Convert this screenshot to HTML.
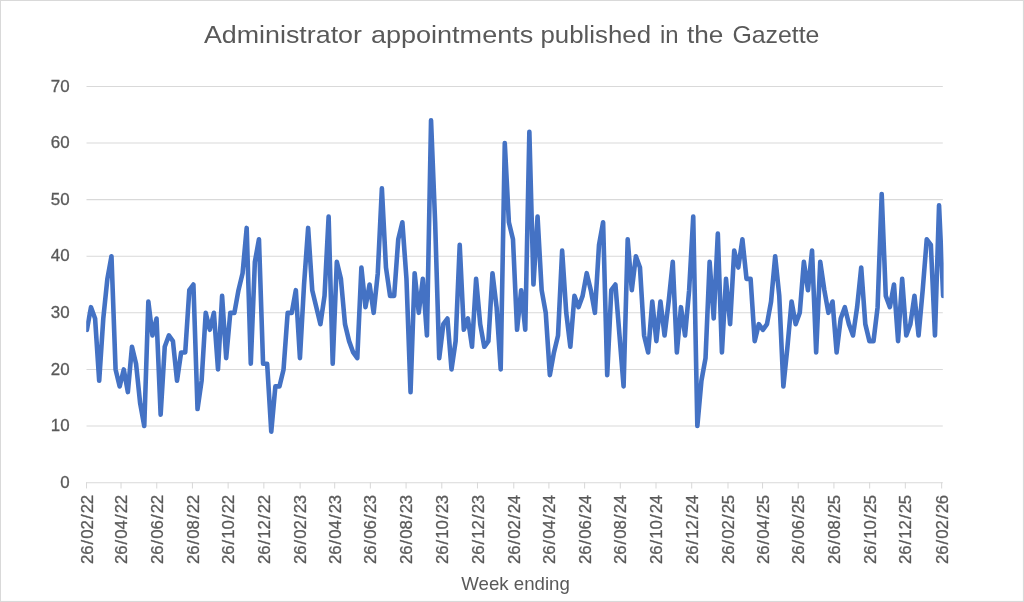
<!DOCTYPE html>
<html lang="en"><head><meta charset="utf-8"><title>Administrator appointments published in the Gazette</title>
<style>html,body{margin:0;padding:0;background:#fff}svg{display:block;will-change:transform;opacity:0.999}</style></head>
<body>
<svg width="1024" height="602" viewBox="0 0 1024 602" font-family="'Liberation Sans', sans-serif" fill="#595959">
<defs><clipPath id="plot"><rect x="86.2" y="60" width="857.4" height="440"/></clipPath></defs>
<rect x="0" y="0" width="1024" height="602" fill="#ffffff"/>
<rect x="0.45" y="0.45" width="1023" height="601" fill="none" stroke="#d9d9d9" stroke-width="1.1"/>
<line x1="86.5" x2="942.8" y1="482.65" y2="482.65" stroke="#d9d9d9" stroke-width="1.05"/>
<line x1="86.5" x2="942.8" y1="426.04" y2="426.04" stroke="#d9d9d9" stroke-width="1.05"/>
<line x1="86.5" x2="942.8" y1="369.44" y2="369.44" stroke="#d9d9d9" stroke-width="1.05"/>
<line x1="86.5" x2="942.8" y1="312.83" y2="312.83" stroke="#d9d9d9" stroke-width="1.05"/>
<line x1="86.5" x2="942.8" y1="256.22" y2="256.22" stroke="#d9d9d9" stroke-width="1.05"/>
<line x1="86.5" x2="942.8" y1="199.61" y2="199.61" stroke="#d9d9d9" stroke-width="1.05"/>
<line x1="86.5" x2="942.8" y1="143.01" y2="143.01" stroke="#d9d9d9" stroke-width="1.05"/>
<line x1="86.5" x2="942.8" y1="86.40" y2="86.40" stroke="#d9d9d9" stroke-width="1.05"/>
<line x1="86.50" x2="86.50" y1="482.15" y2="488.45" stroke="#d9d9d9" stroke-width="1.05"/>
<text transform="translate(92.60,563.9) rotate(-90)" font-size="16.8" stroke="#595959" stroke-width="0.3" x="-0.09 9.08 19.50 25.24 34.41 44.83 50.57 59.74">26/02/22</text>
<line x1="121.03" x2="121.03" y1="482.15" y2="488.45" stroke="#d9d9d9" stroke-width="1.05"/>
<text transform="translate(127.13,563.9) rotate(-90)" font-size="16.8" stroke="#595959" stroke-width="0.3" x="-0.09 9.08 19.50 25.24 34.41 44.83 50.57 59.74">26/04/22</text>
<line x1="156.74" x2="156.74" y1="482.15" y2="488.45" stroke="#d9d9d9" stroke-width="1.05"/>
<text transform="translate(162.84,563.9) rotate(-90)" font-size="16.8" stroke="#595959" stroke-width="0.3" x="-0.09 9.08 19.50 25.24 34.41 44.83 50.57 59.74">26/06/22</text>
<line x1="192.44" x2="192.44" y1="482.15" y2="488.45" stroke="#d9d9d9" stroke-width="1.05"/>
<text transform="translate(198.54,563.9) rotate(-90)" font-size="16.8" stroke="#595959" stroke-width="0.3" x="-0.09 9.08 19.50 25.24 34.41 44.83 50.57 59.74">26/08/22</text>
<line x1="228.14" x2="228.14" y1="482.15" y2="488.45" stroke="#d9d9d9" stroke-width="1.05"/>
<text transform="translate(234.24,563.9) rotate(-90)" font-size="16.8" stroke="#595959" stroke-width="0.3" x="-0.09 9.08 19.50 25.24 34.41 44.83 50.57 59.74">26/10/22</text>
<line x1="263.85" x2="263.85" y1="482.15" y2="488.45" stroke="#d9d9d9" stroke-width="1.05"/>
<text transform="translate(269.95,563.9) rotate(-90)" font-size="16.8" stroke="#595959" stroke-width="0.3" x="-0.09 9.08 19.50 25.24 34.41 44.83 50.57 59.74">26/12/22</text>
<line x1="300.14" x2="300.14" y1="482.15" y2="488.45" stroke="#d9d9d9" stroke-width="1.05"/>
<text transform="translate(306.24,563.9) rotate(-90)" font-size="16.8" stroke="#595959" stroke-width="0.3" x="-0.09 9.08 19.50 25.24 34.41 44.83 50.57 59.74">26/02/23</text>
<line x1="334.67" x2="334.67" y1="482.15" y2="488.45" stroke="#d9d9d9" stroke-width="1.05"/>
<text transform="translate(340.77,563.9) rotate(-90)" font-size="16.8" stroke="#595959" stroke-width="0.3" x="-0.09 9.08 19.50 25.24 34.41 44.83 50.57 59.74">26/04/23</text>
<line x1="370.37" x2="370.37" y1="482.15" y2="488.45" stroke="#d9d9d9" stroke-width="1.05"/>
<text transform="translate(376.47,563.9) rotate(-90)" font-size="16.8" stroke="#595959" stroke-width="0.3" x="-0.09 9.08 19.50 25.24 34.41 44.83 50.57 59.74">26/06/23</text>
<line x1="406.08" x2="406.08" y1="482.15" y2="488.45" stroke="#d9d9d9" stroke-width="1.05"/>
<text transform="translate(412.18,563.9) rotate(-90)" font-size="16.8" stroke="#595959" stroke-width="0.3" x="-0.09 9.08 19.50 25.24 34.41 44.83 50.57 59.74">26/08/23</text>
<line x1="441.78" x2="441.78" y1="482.15" y2="488.45" stroke="#d9d9d9" stroke-width="1.05"/>
<text transform="translate(447.88,563.9) rotate(-90)" font-size="16.8" stroke="#595959" stroke-width="0.3" x="-0.09 9.08 19.50 25.24 34.41 44.83 50.57 59.74">26/10/23</text>
<line x1="477.48" x2="477.48" y1="482.15" y2="488.45" stroke="#d9d9d9" stroke-width="1.05"/>
<text transform="translate(483.58,563.9) rotate(-90)" font-size="16.8" stroke="#595959" stroke-width="0.3" x="-0.09 9.08 19.50 25.24 34.41 44.83 50.57 59.74">26/12/23</text>
<line x1="513.77" x2="513.77" y1="482.15" y2="488.45" stroke="#d9d9d9" stroke-width="1.05"/>
<text transform="translate(519.87,563.9) rotate(-90)" font-size="16.8" stroke="#595959" stroke-width="0.3" x="-0.09 9.08 19.50 25.24 34.41 44.83 50.57 59.74">26/02/24</text>
<line x1="548.89" x2="548.89" y1="482.15" y2="488.45" stroke="#d9d9d9" stroke-width="1.05"/>
<text transform="translate(554.99,563.9) rotate(-90)" font-size="16.8" stroke="#595959" stroke-width="0.3" x="-0.09 9.08 19.50 25.24 34.41 44.83 50.57 59.74">26/04/24</text>
<line x1="584.59" x2="584.59" y1="482.15" y2="488.45" stroke="#d9d9d9" stroke-width="1.05"/>
<text transform="translate(590.69,563.9) rotate(-90)" font-size="16.8" stroke="#595959" stroke-width="0.3" x="-0.09 9.08 19.50 25.24 34.41 44.83 50.57 59.74">26/06/24</text>
<line x1="620.30" x2="620.30" y1="482.15" y2="488.45" stroke="#d9d9d9" stroke-width="1.05"/>
<text transform="translate(626.40,563.9) rotate(-90)" font-size="16.8" stroke="#595959" stroke-width="0.3" x="-0.09 9.08 19.50 25.24 34.41 44.83 50.57 59.74">26/08/24</text>
<line x1="656.00" x2="656.00" y1="482.15" y2="488.45" stroke="#d9d9d9" stroke-width="1.05"/>
<text transform="translate(662.10,563.9) rotate(-90)" font-size="16.8" stroke="#595959" stroke-width="0.3" x="-0.09 9.08 19.50 25.24 34.41 44.83 50.57 59.74">26/10/24</text>
<line x1="691.70" x2="691.70" y1="482.15" y2="488.45" stroke="#d9d9d9" stroke-width="1.05"/>
<text transform="translate(697.80,563.9) rotate(-90)" font-size="16.8" stroke="#595959" stroke-width="0.3" x="-0.09 9.08 19.50 25.24 34.41 44.83 50.57 59.74">26/12/24</text>
<line x1="727.99" x2="727.99" y1="482.15" y2="488.45" stroke="#d9d9d9" stroke-width="1.05"/>
<text transform="translate(734.09,563.9) rotate(-90)" font-size="16.8" stroke="#595959" stroke-width="0.3" x="-0.09 9.08 19.50 25.24 34.41 44.83 50.57 59.74">26/02/25</text>
<line x1="762.53" x2="762.53" y1="482.15" y2="488.45" stroke="#d9d9d9" stroke-width="1.05"/>
<text transform="translate(768.63,563.9) rotate(-90)" font-size="16.8" stroke="#595959" stroke-width="0.3" x="-0.09 9.08 19.50 25.24 34.41 44.83 50.57 59.74">26/04/25</text>
<line x1="798.23" x2="798.23" y1="482.15" y2="488.45" stroke="#d9d9d9" stroke-width="1.05"/>
<text transform="translate(804.33,563.9) rotate(-90)" font-size="16.8" stroke="#595959" stroke-width="0.3" x="-0.09 9.08 19.50 25.24 34.41 44.83 50.57 59.74">26/06/25</text>
<line x1="833.93" x2="833.93" y1="482.15" y2="488.45" stroke="#d9d9d9" stroke-width="1.05"/>
<text transform="translate(840.03,563.9) rotate(-90)" font-size="16.8" stroke="#595959" stroke-width="0.3" x="-0.09 9.08 19.50 25.24 34.41 44.83 50.57 59.74">26/08/25</text>
<line x1="869.64" x2="869.64" y1="482.15" y2="488.45" stroke="#d9d9d9" stroke-width="1.05"/>
<text transform="translate(875.74,563.9) rotate(-90)" font-size="16.8" stroke="#595959" stroke-width="0.3" x="-0.09 9.08 19.50 25.24 34.41 44.83 50.57 59.74">26/10/25</text>
<line x1="905.34" x2="905.34" y1="482.15" y2="488.45" stroke="#d9d9d9" stroke-width="1.05"/>
<text transform="translate(911.44,563.9) rotate(-90)" font-size="16.8" stroke="#595959" stroke-width="0.3" x="-0.09 9.08 19.50 25.24 34.41 44.83 50.57 59.74">26/12/25</text>
<line x1="941.63" x2="941.63" y1="482.15" y2="488.45" stroke="#d9d9d9" stroke-width="1.05"/>
<text transform="translate(947.73,563.9) rotate(-90)" font-size="16.8" stroke="#595959" stroke-width="0.3" x="-0.09 9.08 19.50 25.24 34.41 44.83 50.57 59.74">26/02/26</text>
<text x="69.6" y="487.85" text-anchor="end" font-size="16.9" stroke="#595959" stroke-width="0.3">0</text>
<text x="69.6" y="431.24" text-anchor="end" font-size="16.9" stroke="#595959" stroke-width="0.3">10</text>
<text x="69.6" y="374.64" text-anchor="end" font-size="16.9" stroke="#595959" stroke-width="0.3">20</text>
<text x="69.6" y="318.03" text-anchor="end" font-size="16.9" stroke="#595959" stroke-width="0.3">30</text>
<text x="69.6" y="261.42" text-anchor="end" font-size="16.9" stroke="#595959" stroke-width="0.3">40</text>
<text x="69.6" y="204.81" text-anchor="end" font-size="16.9" stroke="#595959" stroke-width="0.3">50</text>
<text x="69.6" y="148.21" text-anchor="end" font-size="16.9" stroke="#595959" stroke-width="0.3">60</text>
<text x="69.6" y="91.60" text-anchor="end" font-size="16.9" stroke="#595959" stroke-width="0.3">70</text>
<text x="203.9" y="43.2" font-size="24.8" textLength="158.1" lengthAdjust="spacingAndGlyphs">Administrator</text>
<text x="371.0" y="43.2" font-size="24.8" textLength="162.2" lengthAdjust="spacingAndGlyphs">appointments</text>
<text x="540.5" y="43.2" font-size="24.8" textLength="110.5" lengthAdjust="spacingAndGlyphs">published</text>
<text x="660.0" y="43.2" font-size="24.8" textLength="18.6" lengthAdjust="spacingAndGlyphs">in</text>
<text x="687.0" y="43.2" font-size="24.8" textLength="36.4" lengthAdjust="spacingAndGlyphs">the</text>
<text x="732.4" y="43.2" font-size="24.8" textLength="87.0" lengthAdjust="spacingAndGlyphs">Gazette</text>
<text x="461.3" y="590.0" font-size="18.2" textLength="108.5" lengthAdjust="spacingAndGlyphs">Week ending</text>
<polyline points="86.90,329.81 91.00,307.17 95.09,318.49 99.19,380.76 103.29,318.49 107.38,278.86 111.48,256.22 115.58,369.44 119.68,386.42 123.77,369.44 127.87,392.08 131.97,346.79 136.06,363.77 140.16,403.40 144.26,426.04 148.35,301.51 152.45,335.47 156.55,318.49 160.64,414.72 164.74,346.79 168.84,335.47 172.93,341.13 177.03,380.76 181.13,352.45 185.23,352.45 189.32,290.19 193.42,284.52 197.52,409.06 201.61,380.76 205.71,312.83 209.81,329.81 213.90,312.83 218.00,369.44 222.10,295.85 226.19,358.11 230.29,312.83 234.39,312.83 238.48,290.19 242.58,273.20 246.68,227.92 250.78,363.77 254.87,261.88 258.97,239.24 263.07,363.77 267.16,363.77 271.26,431.70 275.36,386.42 279.45,386.42 283.55,369.44 287.65,312.83 291.74,312.83 295.84,290.19 299.94,358.11 304.04,284.52 308.13,227.92 312.23,290.19 316.33,307.17 320.42,324.15 324.52,295.85 328.62,216.60 332.71,363.77 336.81,261.88 340.91,278.86 345.00,324.15 349.10,341.13 353.20,352.45 357.29,358.11 361.39,267.54 365.49,307.17 369.59,284.52 373.68,312.83 377.78,273.20 381.88,188.29 385.97,267.54 390.07,295.85 394.17,295.85 398.26,239.24 402.36,222.26 406.46,278.86 410.55,392.08 414.65,273.20 418.75,312.83 422.84,278.86 426.94,335.47 431.04,120.36 435.14,222.26 439.23,358.11 443.33,324.15 447.43,318.49 451.52,369.44 455.62,341.13 459.72,244.90 463.81,329.81 467.91,318.49 472.01,346.79 476.10,278.86 480.20,324.15 484.30,346.79 488.40,341.13 492.49,273.20 496.59,307.17 500.69,369.44 504.78,143.01 508.88,222.26 512.98,239.24 517.07,329.81 521.17,290.19 525.27,329.81 529.36,131.69 533.46,284.52 537.56,216.60 541.65,290.19 545.75,312.83 549.85,375.10 553.95,352.45 558.04,335.47 562.14,250.56 566.24,312.83 570.33,346.79 574.43,295.85 578.53,307.17 582.62,295.85 586.72,273.20 590.82,290.19 594.91,312.83 599.01,244.90 603.11,222.26 607.21,375.10 611.30,290.19 615.40,284.52 619.50,335.47 623.59,386.42 627.69,239.24 631.79,290.19 635.88,256.22 639.98,267.54 644.08,335.47 648.17,352.45 652.27,301.51 656.37,341.13 660.46,301.51 664.56,335.47 668.66,301.51 672.76,261.88 676.85,352.45 680.95,307.17 685.05,335.47 689.14,290.19 693.24,216.60 697.34,426.04 701.43,380.76 705.53,358.11 709.63,261.88 713.72,318.49 717.82,233.58 721.92,352.45 726.01,278.86 730.11,324.15 734.21,250.56 738.31,267.54 742.40,239.24 746.50,278.86 750.60,278.86 754.69,341.13 758.79,324.15 762.89,329.81 766.98,324.15 771.08,301.51 775.18,256.22 779.27,295.85 783.37,386.42 787.47,346.79 791.57,301.51 795.66,324.15 799.76,312.83 803.86,261.88 807.95,290.19 812.05,250.56 816.15,352.45 820.24,261.88 824.34,290.19 828.44,312.83 832.53,301.51 836.63,352.45 840.73,318.49 844.82,307.17 848.92,324.15 853.02,335.47 857.12,307.17 861.21,267.54 865.31,324.15 869.41,341.13 873.50,341.13 877.60,307.17 881.70,193.95 885.79,295.85 889.89,307.17 893.99,284.52 898.08,341.13 902.18,278.86 906.28,335.47 910.37,324.15 914.47,295.85 918.57,335.47 922.67,290.19 926.76,239.24 930.86,244.90 934.96,335.47 939.05,205.27 943.15,295.85" fill="none" stroke="#4472c4" stroke-width="4.6" stroke-linejoin="round" stroke-linecap="round" clip-path="url(#plot)"/>
</svg>
</body></html>
